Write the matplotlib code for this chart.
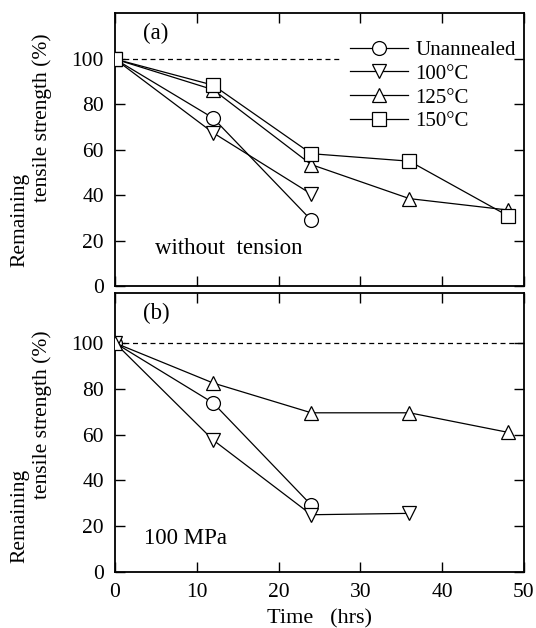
import matplotlib
matplotlib.use('Agg')
from matplotlib import pyplot as plt

plt.rcParams['font.family'] = ['Liberation Serif', 'DejaVu Serif']
plt.rcParams['font.size'] = 15.5

# (a) without tension
t_a_unann = [0, 12, 24]
a_unann = [100, 74, 29]
t_a_100 = [0, 12, 24]
a_100 = [100, 67.5, 40.5]
t_a_125 = [0, 12, 24, 36, 48]
a_125 = [100, 86.5, 53.5, 38.5, 33.5]
t_a_150 = [0, 12, 24, 36, 48]
a_150 = [100, 88.5, 58.3, 55, 31]

# (b) 100 MPa
t_b_unann = [0, 12, 24]
b_unann = [100, 73.8, 29.2]
t_b_100 = [0, 12, 24, 36]
b_100 = [100, 57.6, 25, 25.6]
t_b_125 = [0, 12, 24, 36, 48]
b_125 = [100, 82.5, 69.5, 69.5, 61]

labels = ['Unannealed', '100°C', '125°C', '150°C']
markers = ['o', 'v', '^', 's']
msizes = [10, 9.5, 9.5, 10]

fig = plt.figure(figsize=(5.36, 6.28), dpi=100)
ax1 = fig.add_axes([115/536, 1 - 286/628, 409/536, 273/628])
ax2 = fig.add_axes([115/536, 1 - 572/628, 409/536, 279/628])

def style(ax, ytop):
    ax.set_xlim(0, 50)
    ax.set_ylim(0, ytop)
    ax.set_xticks([0, 10, 20, 30, 40, 50])
    ax.set_yticks([0, 20, 40, 60, 80, 100])
    ax.tick_params(direction='in', length=7, width=1, top=True, right=True, pad=8)
    for s in ax.spines.values():
        s.set_linewidth(1.3)

def series(ax, t, v, i):
    ax.plot(t, v, color='black', lw=0.9, marker=markers[i], ms=msizes[i],
            mfc='white', mec='black', mew=0.9, label=labels[i], zorder=3)

ax1.hlines(100, 0, 27.5, color='black', lw=0.9, ls=(0, (4, 3)), zorder=1)
series(ax1, t_a_unann, a_unann, 0)
series(ax1, t_a_100, a_100, 1)
series(ax1, t_a_125, a_125, 2)
series(ax1, t_a_150, a_150, 3)
style(ax1, 120.3)
ax1.set_xticklabels([])
leg = ax1.legend(loc='upper right', bbox_to_anchor=(1.0, 0.93), frameon=False,
                 handlelength=2.8, handletextpad=0.35, labelspacing=0.2,
                 borderaxespad=0.2, borderpad=0.2, fontsize=15)
ax1.text(0.068, 0.965, '(a)', transform=ax1.transAxes, ha='left', va='top', fontsize=16.5)
ax1.text(0.097, 0.139, 'without  tension', transform=ax1.transAxes, ha='left',
         va='center', fontsize=16.5)

ax2.axhline(100, color='black', lw=0.9, ls=(0, (4, 3)), zorder=1)
series(ax2, t_b_unann, b_unann, 0)
series(ax2, t_b_100, b_100, 1)
series(ax2, t_b_125, b_125, 2)
style(ax2, 121.8)
ax2.text(0.068, 0.965, '(b)', transform=ax2.transAxes, ha='left', va='top', fontsize=16.5)
ax2.text(0.072, 0.12, '100 MPa', transform=ax2.transAxes, ha='left', va='center',
         fontsize=16.5)
ax2.set_xlabel('Time   (hrs)', labelpad=5, fontsize=16)

# y labels (two offset lines)
fig.text(20/536, 1 - 220/628, 'Remaining', rotation=90, ha='center', va='center')
fig.text(42/536, 1 - 118/628, 'tensile strength (%)', rotation=90, ha='center', va='center')
fig.text(20/536, 1 - 516/628, 'Remaining', rotation=90, ha='center', va='center')
fig.text(42/536, 1 - 415/628, 'tensile strength (%)', rotation=90, ha='center', va='center')

fig.savefig('out.png', dpi=100)
